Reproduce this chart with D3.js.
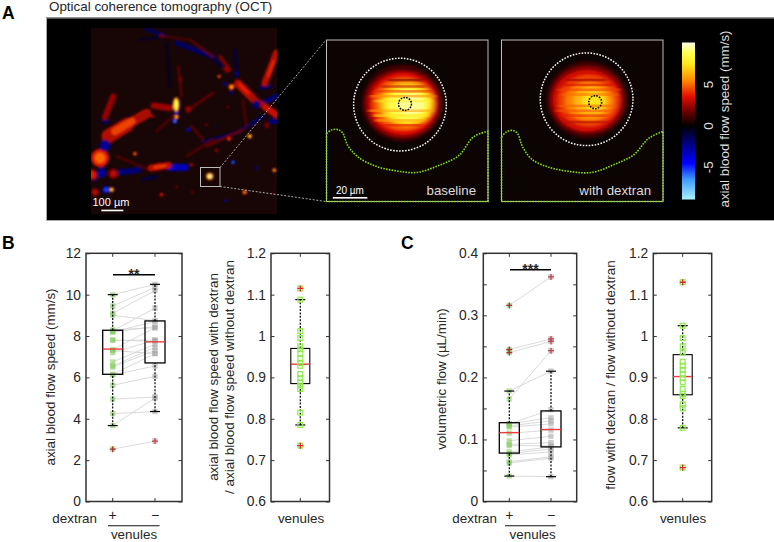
<!DOCTYPE html>
<html><head><meta charset="utf-8">
<script src="https://cdn.jsdelivr.net/npm/d3@7/dist/d3.min.js"></script>
<style>
html,body{margin:0;padding:0;background:#fff}
svg{display:block;font-family:"Liberation Sans",Arial,sans-serif}
text{fill:#262626}
</style></head><body><svg id="c" width="774" height="542"></svg>
<script>
// ---------- Panel A: picture content ----------
// [x0,y0,x1,y1,width,speed]
const vessels=[
[440,88,500,110,10,-1.7],[530,130,640,172,15,-1.7],[640,172,665,200,9,-1.4],[705,150,710,230,8,-1.1],
[610,425,710,400,9,-1.4],[710,400,790,350,11,-1.5],[770,318,830,290,15,-2],[785,265,810,260,14,-1.5],
[500,130,510,260,7,-.7],[420,120,500,110,7,-.8],[360,518,415,512,18,-2],[510,503,555,503,22,-3.2],
[285,540,310,505,11,-1.7],[430,540,470,530,10,-1.1],[310,368,325,365,11,-1.5],[815,365,830,365,15,-2.2],
[480,490,440,510,7,1.4],[470,395,530,340,7,1.4],[535,200,545,290,7,1.6],[575,380,610,420,7,1.5],
[565,330,640,280,7,1.7],[620,440,730,390,7,1.7],[730,300,740,380,7,1.4],[350,470,450,510,7,1.3],
[560,470,640,420,7,1.4],[570,120,640,170,7,1.6],[660,170,690,210,9,2.2],[490,110,570,120,6,1.3],
[830,160,795,250,20,2.9],[715,252,760,297,24,2.9],[760,297,830,345,19,2.6],[800,325,830,345,20,3.2],
[315,352,340,290,18,2.4],[325,410,382,375,42,2.9],[382,375,440,342,30,2.7],[462,318,510,325,19,2.5],
[455,505,505,497,21,3],[565,328,566,330,18,2.3],[680,208,682,210,18,2.3],[800,375,802,378,14,1.8],
[325,425,350,405,16,2.8],[540,235,542,242,10,1.9],[485,108,488,110,10,1.9],[345,395,395,365,22,4.4],[465,503,495,498,9,4.2],
[822,185,805,230,7,4],[720,255,745,280,9,3.8]];
// [x,y,radius,speed]
const blobs=[
[300,475,27,5],[276,525,16,3.8],[340,522,15,3],[285,578,12,2.9],[315,438,17,-2.8],[305,520,15,-2.8],
[770,315,12,-2.2],[675,253,6,-3],[712,222,6,-3],[695,280,5,-3.2],[530,338,8,-3.2],[565,390,6,-4],
[525,365,7,-6.4],[700,488,6,-6.2],[770,505,4,-4.4],[678,603,4,-4.6],[648,380,3,-3],[318,570,11,-5.4],
[630,530,11,9.5],[750,410,7,7.6],[695,262,9,6.4],[824,512,6,7],[735,578,7,6],[405,462,6,5.4],[335,570,7,8.4],
[530,352,7,7.2],[658,230,5,6],[688,418,6,4.6],[485,585,6,3.8],[575,495,5,3.4],[458,350,5,3.4],[650,452,5,3.2],
[620,375,4,2.6],[530,562,4,2.2],[578,578,4,2.2],[820,580,3,2.4],[685,323,4,2.2]];
// [x,y,rx,ry,speed]
const hotSpots=[[529,315,10,22,5.6],[529,315,6,15,8.8]];
const scaleBarMain=[304,370,630];

// inset heat maps: nested levels [cx,cy,rx,ry,speed] in inset units (0-100)
const insetBaseline=[[47,39,25,24,1],[47,39.5,23,21,2.4],[47.5,39.5,21,19,3.6],[48,39.5,19,16.5,4.8],[49.5,39.5,17,14,6.2],[50,40,15,12,7.4],[50.5,40,12.5,10,8.6],[52,40,8,6.5,9.4]];
const insetDextran=[[53,37,25,24,1],[53,37,23,21,2.2],[53,37.5,21,19,3.4],[54,37.5,18.5,16,4.4],[54.5,38,15,12.5,5.4],[55.5,38,11,9.5,6.4],[57,38,7,6,7.4]];
// horizontal scan streaks [y,x0,x1,speed]
const streaksBaseline=[[28,33,62,3],[31,29,66,4],[34,27,68,5.5],[37,30,65,7.8],[43,26,66,6],[46,29,63,7.5],[49,30,60,6],[52,35,60,3.6],[24,38,60,1.8]];
const streaksDextran=[[24,40,65,2.4],[27,36,71,3.4],[30,35,74,4.4],[33,37,72,5],[40,35,70,4.8],[43,34,68,4.6],[46,36,66,3.8],[50,40,66,2.8]];
const circlesBaseline={outer:[45.5,40.0,28.7],inner:[48.6,39.6,4]};
const circlesDextran={outer:[52.7,36.7,28.7],inner:[58,38.5,4]};
const greenBaseline=[[0,58],[3,55.7],[7,55.5],[10,57.5],[13,65],[19,72],[30,78],[43,81],[56,82],[70,77.5],[82,71.5],[91,60],[100,56.5]];
const greenDextran=[[0,60],[3,57],[7,56],[10,58],[13,66],[19,74],[30,79],[43,81.5],[56,82],[70,77],[82,71],[91,61],[100,56.5]];
const colorStops=[-8.9,-6.5,-4.5,-1.2,0,1.8,3.6,5.5,7.5,8.8,10.1];
const colorValues=["#a8f2ff","#3f9cff","#0000ff","#00004a","#000000","#700000","#e31000","#ff8a00","#ffe81e","#ffff50","#ffffe6"];
const cbTicks=[5,0,-5];

// ---------- Panels B and C: data ----------
const speedPlus =[2.53,3.67,4.25,4.95,5.62,6.12,6.15,6.5,6.55,6.75,7.2,7.3,7.35,7.8,7.8,8.2,8.2,8.25,8.3,9.0,9.1,9.45,10.0];
const speedMinus=[2.92,5.0,4.35,5.05,6.05,6.55,7.15,7.3,7.45,7.6,7.8,7.15,8.4,7.75,7.8,8.45,8.7,9.35,8.4,8.75,10.2,10.35,10.5];
const speedBoxPlus=[3.67,6.15,7.37,8.28,10.0];
const speedBoxMinus=[4.35,6.7,7.72,8.73,10.5];
const speedOutPlus=[2.53];
const speedOutMinus=[2.92];
const speedTicks=[0,2,4,6,8,10,12];

const ratioSpeed=[1.115,1.088,1.012,.995,.975,.968,.958,.945,.935,.928,.908,.898,.888,.88,.872,.815,.785,.735];
const ratioSpeedBox=[.785,.885,.932,.97,1.088];
const ratioSpeedOut=[1.115,.735];
const ratioTicks=[.6,.7,.8,.9,1,1.1,1.2];
const ratioLabels=["0.6","0.7","0.8","0.9","1","1.1","1.2"];

const flowPlus =[.041,.062,.064,.075,.077,.08,.09,.092,.098,.11,.12,.122,.125,.125,.165,.178,.24,.245,.316];
const flowMinus=[.04,.07,.072,.08,.085,.088,.09,.095,.105,.115,.125,.13,.135,.148,.243,.21,.258,.262,.362];
const flowBoxPlus=[.041,.078,.111,.127,.178];
const flowBoxMinus=[.04,.088,.116,.146,.21];
const flowOutPlus=[.24,.245,.316];
const flowOutMinus=[.243,.258,.262,.362];
const flowTicks=[0,.05,.1,.15,.2,.25,.3,.35,.4];
const flowLabels=["0","0.1","0.2","0.3","0.4"];

const ratioFlow=[1.13,1.025,.995,.975,.96,.938,.928,.918,.908,.898,.888,.872,.86,.855,.835,.825,.778,.682];
const ratioFlowBox=[.778,.858,.902,.955,1.025];
const ratioFlowOut=[1.13,.682];

// ---------- Drawing ----------
const FS=13.4;
const svg=d3.select("#c");
const defs=svg.append("defs");
[["b1","1.2"],["b3","2.2 1"],["bs","2 0.4"]].forEach(([id,s])=>defs.append("filter").attr("id",id)
  .attr("x","-30%").attr("y","-30%").attr("width","160%").attr("height","160%")
  .append("feGaussianBlur").attr("stdDeviation",s));
const heat=d3.scaleLinear().domain(colorStops).range(colorValues).interpolate(d3.interpolateRgb).clamp(true);

// black panel
svg.append("rect").attr("x",46).attr("y",17.5).attr("width",728).attr("height",203).attr("fill","#000");
svg.append("path").attr("d","M46.5 221V18H774M46.5 220.5H774").attr("fill","none").attr("stroke","#aaa").attr("stroke-width",1);
svg.append("text").attr("x",49).attr("y",11).attr("font-size",13.4).text("Optical coherence tomography (OCT)");

// main image
const ix=d3.scaleLinear([273,832],[91,277]), iy=d3.scaleLinear([85,643],[28,214]), iw=d3.scaleLinear([0,558],[0,186]);
defs.append("clipPath").attr("id","mainClip").append("rect").attr("x",91).attr("y",28).attr("width",186).attr("height",186);
const main=svg.append("g").attr("clip-path","url(#mainClip)");
main.append("rect").attr("x",91).attr("y",28).attr("width",186).attr("height",186).attr("fill","#180505");
const mg=main.append("g").attr("filter","url(#b1)");
mg.selectAll("line.v").data(vessels).join("line")
 .attr("x1",d=>ix(d[0])).attr("y1",d=>iy(d[1])).attr("x2",d=>ix(d[2])).attr("y2",d=>iy(d[3]))
 .attr("stroke-width",d=>iw(d[4])).attr("stroke-linecap","round").attr("stroke",d=>heat(d[5]));
mg.selectAll("circle.o").data(blobs).join(e=>e.append("circle").attr("class","o")).attr("cx",d=>ix(d[0])).attr("cy",d=>iy(d[1])).attr("r",d=>iw(d[2]))
 .attr("fill",d=>heat(d[3]*(Math.abs(d[3])>5?0.6:0.75)));
mg.selectAll("circle.i").data(blobs).join(e=>e.append("circle").attr("class","i")).attr("cx",d=>ix(d[0])).attr("cy",d=>iy(d[1])).attr("r",d=>iw(d[2])*.55)
 .attr("fill",d=>heat(d[3]));
mg.selectAll("ellipse").data(hotSpots).join("ellipse").attr("cx",d=>ix(d[0])).attr("cy",d=>iy(d[1])).attr("rx",d=>iw(d[2])).attr("ry",d=>iw(d[3])).attr("fill",d=>heat(d[4]));
svg.append("rect").attr("x",ix(scaleBarMain[0])).attr("y",iy(scaleBarMain[2])).attr("width",iw(scaleBarMain[1]-scaleBarMain[0])).attr("height",1.6).attr("fill","#fff");
svg.append("text").attr("x",ix(333)).attr("y",iy(620)).attr("text-anchor","middle").attr("font-size",11).style("fill","#fff").text("100 µm");

// zoom box and connectors
svg.append("rect").attr("x",200.5).attr("y",167.5).attr("width",19.5).attr("height",19).attr("fill","none").attr("stroke","#bbb").attr("stroke-width",1);
svg.append("path").attr("d","M220 167.5L326 40M220 186.5L326 201.5").attr("stroke","#aaa").attr("stroke-width",1).attr("stroke-dasharray","2 1.6").attr("fill","none");

// insets
function inset(x0,id,levels,streaks,circ,green,label,bar){
  const w=161.5,y0=40,h=161.5;
  const u=d3.scaleLinear([0,100],[x0,x0+w]), v=d3.scaleLinear([0,100],[y0,y0+h]), s=d3.scaleLinear([0,100],[0,w]);
  defs.append("clipPath").attr("id",id).append("rect").attr("x",x0).attr("y",y0).attr("width",w).attr("height",h);
  const g=svg.append("g").attr("clip-path",`url(#${id})`);
  g.append("rect").attr("x",x0).attr("y",y0).attr("width",w).attr("height",h).attr("fill","#0c0303");
  g.append("g").attr("filter","url(#b3)").selectAll("ellipse").data(levels).join("ellipse")
    .attr("cx",d=>u(d[0])).attr("cy",d=>v(d[1])).attr("rx",d=>s(d[2])).attr("ry",d=>s(d[3])).attr("fill",d=>heat(d[4]));
  g.append("g").attr("filter","url(#bs)").attr("opacity",.55).selectAll("rect").data(streaks).join("rect")
    .attr("x",d=>u(d[1])).attr("y",d=>v(d[0])).attr("width",d=>s(d[2]-d[1])).attr("height",s(1.6)).attr("fill",d=>heat(d[3]));
  svg.append("circle").attr("cx",u(circ.outer[0])).attr("cy",v(circ.outer[1])).attr("r",s(circ.outer[2])).attr("fill","none").attr("stroke","#fff").attr("stroke-width",1.5).attr("stroke-dasharray","1.6 1.4");
  svg.append("circle").attr("cx",u(circ.inner[0])).attr("cy",v(circ.inner[1])).attr("r",s(circ.inner[2])).attr("fill","none").attr("stroke","#000").attr("stroke-width",1.5).attr("stroke-dasharray","1.6 1.2");
  svg.append("rect").attr("x",x0).attr("y",y0).attr("width",w).attr("height",h).attr("fill","none").attr("stroke","#bdbdbd").attr("stroke-width",1);
  const ln=d3.line().x(d=>u(d[0])).y(d=>v(d[1])).curve(d3.curveCatmullRom);
  const closed=ln(green)+`L${u(100)} ${v(100)}L${u(0)} ${v(100)}Z`;
  svg.append("path").attr("d",closed).attr("fill","none").attr("stroke","#84d81f").attr("stroke-width",1.6).attr("stroke-dasharray","1.6 1.2");
  svg.append("text").attr("x",u(92.6)).attr("y",195).attr("text-anchor","end").attr("font-size",13.3).style("fill","#ddd").text(label);
  if(bar){
    svg.append("rect").attr("x",u(3.9)).attr("y",197).attr("width",s(21.4)).attr("height",1.6).attr("fill","#fff");
    svg.append("text").attr("x",u(14.5)).attr("y",194).attr("text-anchor","middle").attr("font-size",10).style("fill","#fff").text("20 µm");
  }
}
inset(326.5,"ic1",insetBaseline,streaksBaseline,circlesBaseline,greenBaseline,"baseline",true);
inset(501.5,"ic2",insetDextran,streaksDextran,circlesDextran,greenDextran,"with dextran",false);

// colorbar
const cy=d3.scaleLinear([-8.9,10.1],[199.5,42.5]);
const cbg=defs.append("linearGradient").attr("id","cb").attr("x1",0).attr("x2",0).attr("y1",1).attr("y2",0);
colorStops.forEach((d,i)=>cbg.append("stop").attr("offset",(d+8.9)/19).attr("stop-color",colorValues[i]));
svg.append("rect").attr("x",682).attr("y",cy(10.1)).attr("width",13).attr("height",cy(-8.9)-cy(10.1)).attr("fill","url(#cb)");
svg.selectAll("text.cb").data(cbTicks).join(e=>e.append("text").attr("class","cb"))
  .attr("transform",d=>`translate(713,${cy(d)}) rotate(-90)`).attr("text-anchor","middle").attr("font-size",13.4).style("fill","#ddd").text(d=>d<0?"-"+(-d):d);
svg.append("text").attr("transform","translate(729,119) rotate(-90)").attr("text-anchor","middle").attr("font-size",FS).style("fill","#ddd").text("axial blood flow speed (mm/s)");

// panel letters
[["A",2,19],["B",2,249],["C",401,249]].forEach(d=>svg.append("text").attr("x",d[1]).attr("y",d[2]).attr("font-size",17.5).attr("font-weight","bold").style("fill","#000").text(d[0]));

// box-plot panels
function axes(x0,x1,y,ticks,fmt,labelled,xt){
  const g=svg.append("g");
  const top=y.range()[1],bot=y.range()[0];
  g.append("rect").attr("x",x0).attr("y",top).attr("width",x1-x0).attr("height",bot-top).attr("fill","none").attr("stroke","#333").attr("stroke-width",1.5);
  const l=d3.axisLeft(y).tickValues(ticks).tickSize(-3.5).tickPadding(5).tickFormat(d=>labelled(d)?fmt(d):"");
  const ga=g.append("g").attr("transform",`translate(${x0},0)`).call(l);
  ga.select(".domain").remove();ga.selectAll("line").attr("stroke","#333");
  ga.selectAll("text").attr("font-size",13.8).attr("font-family","Liberation Sans");
  const r=d3.axisRight(y).tickValues(ticks).tickSize(-3.5).tickFormat("");
  const gr=g.append("g").attr("transform",`translate(${x1},0)`).call(r);
  gr.select(".domain").remove();gr.selectAll("line").attr("stroke","#333");
  g.selectAll("line.xt").data(xt).join(e=>e.append("line").attr("class","xt")).attr("x1",d=>d).attr("x2",d=>d).attr("y1",bot).attr("y2",bot-3.5).attr("stroke","#333");
  g.selectAll("line.xt2").data(xt).join(e=>e.append("line").attr("class","xt2")).attr("x1",d=>d).attr("x2",d=>d).attr("y1",top).attr("y2",top+3.5).attr("stroke","#333");
}
function box(cx,hw,y,s,lw){
  const g=svg.append("g");
  g.append("line").attr("x1",cx).attr("x2",cx).attr("y1",y(s[0])).attr("y2",y(s[1])).attr("stroke","#000").attr("stroke-width",1.2).attr("stroke-dasharray","2 1.4");
  g.append("line").attr("x1",cx).attr("x2",cx).attr("y1",y(s[3])).attr("y2",y(s[4])).attr("stroke","#000").attr("stroke-width",1.2).attr("stroke-dasharray","2 1.4");
  [s[0],s[4]].forEach(v=>g.append("line").attr("x1",cx-5).attr("x2",cx+5).attr("y1",y(v)).attr("y2",y(v)).attr("stroke","#000").attr("stroke-width",1.2));
  g.append("rect").attr("x",cx-hw).attr("y",y(s[3])).attr("width",2*hw).attr("height",y(s[1])-y(s[3])).attr("fill","none").attr("stroke","#000").attr("stroke-width",lw);
  g.append("line").attr("x1",cx-hw).attr("x2",cx+hw).attr("y1",y(s[2])).attr("y2",y(s[2])).attr("stroke","#ee3b3b").attr("stroke-width",1.4);
}
function squares(cx,y,vals,col,op,filled){
  svg.append("g").selectAll("rect").data(vals).join("rect").attr("x",cx-2.4).attr("y",d=>y(d)-2.4).attr("width",4.8).attr("height",4.8)
    .attr("fill",filled?col:"none").attr("stroke",col).attr("stroke-width",filled?.4:1.2).attr("opacity",op);
}
function outliers(cx,y,vals,col){
  const g=svg.append("g");
  g.selectAll("path").data(vals).join("path").attr("d",d=>`M${cx-3} ${y(d)}H${cx+3}M${cx} ${y(d)-3}V${y(d)+3}`).attr("stroke",col).attr("stroke-width",1.3).attr("fill","none");
}
function paired(px,mx,y,a,b,boxA,boxB,outA,outB,hw){
  svg.append("g").selectAll("line").data(a.map((d,i)=>[d,b[i]])).join("line").attr("x1",px).attr("x2",mx).attr("y1",d=>y(d[0])).attr("y2",d=>y(d[1])).attr("stroke","#d6d6d6").attr("stroke-width",.9);
  squares(px,y,a,"#86cc62",.6,true);
  squares(mx,y,b,"#a9a9a9",.6,true);
  box(px,hw,y,boxA,1.3);box(mx,hw,y,boxB,1.3);
  outliers(px,y,outA,"#a83232");outliers(mx,y,outB,"#c0484f");
}
function single(cx,y,vals,s,out){
  box(cx,9.5,y,s,1.1);
  squares(cx,y,vals,"#8fea4e",1,false);
  outliers(cx,y,out,"#e0202a");
}
function xlabels(end,px,mx,lx0,lx1,cv){
  svg.append("text").attr("x",end).attr("y",523).attr("text-anchor","end").attr("font-size",FS).text("dextran");
  svg.append("text").attr("x",px).attr("y",520).attr("text-anchor","middle").attr("font-size",14).text("+");
  svg.append("text").attr("x",mx).attr("y",520).attr("text-anchor","middle").attr("font-size",14).text("−");
  svg.append("line").attr("x1",lx0).attr("x2",lx1).attr("y1",525.7).attr("y2",525.7).attr("stroke","#111").attr("stroke-width",1.1);
  svg.append("text").attr("x",cv).attr("y",539).attr("text-anchor","middle").attr("font-size",FS).text("venules");
}
function yTitle(x,cy,t){svg.append("text").attr("transform",`translate(${x},${cy}) rotate(-90)`).attr("text-anchor","middle").attr("font-size",FS).text(t);}
function bracket(x0,x1,yy,stars){
  svg.append("line").attr("x1",x0).attr("x2",x1).attr("y1",yy).attr("y2",yy).attr("stroke","#000").attr("stroke-width",1.4);
  svg.append("text").attr("x",(x0+x1)/2).attr("y",yy+4.5).attr("text-anchor","middle").attr("font-size",14).attr("font-weight","bold").text(stars);
}
const BOT=501.5,TOP=253.3;

// B
const yB=d3.scaleLinear([0,12],[BOT,TOP]);
axes(86,182,yB,speedTicks,d=>d,()=>true,[112.7,155]);
paired(112.7,155,yB,speedPlus,speedMinus,speedBoxPlus,speedBoxMinus,speedOutPlus,speedOutMinus,10);
bracket(113,155,274.7,"**");
xlabels(97,112.7,155,108,159.5,134);
yTitle(55,377,"axial blood flow speed (mm/s)");
// B2
const yB2=d3.scaleLinear([.6,1.2],[BOT,TOP]);
const rf=d=>ratioLabels[ratioTicks.indexOf(d)];
axes(271,329.5,yB2,ratioTicks,rf,()=>true,[300.3]);
single(300.3,yB2,ratioSpeed,ratioSpeedBox,ratioSpeedOut);
svg.append("text").attr("x",301).attr("y",523).attr("text-anchor","middle").attr("font-size",FS).text("venules");
yTitle(218,377,"axial blood flow speed with dextran");
yTitle(234,377,"/ axial blood flow speed without dextran");
// C
const yC=d3.scaleLinear([0,.4],[BOT,TOP]);
axes(483.3,576.7,yC,flowTicks,d=>flowLabels[Math.round(d*10)],d=>Math.abs(d*10-Math.round(d*10))<1e-6,[509.3,551]);
paired(509.3,551,yC,flowPlus,flowMinus,flowBoxPlus,flowBoxMinus,flowOutPlus,flowOutMinus,10);
bracket(510,551,269.7,"***");
xlabels(497,509.3,551,505,555.7,532.7);
yTitle(446,379,"volumetric flow (µL/min)");
// C2
const yC2=d3.scaleLinear([.6,1.2],[BOT,TOP]);
axes(653.3,711.7,yC2,ratioTicks,rf,()=>true,[682.7]);
single(682.7,yC2,ratioFlow,ratioFlowBox,ratioFlowOut);
svg.append("text").attr("x",683).attr("y",523).attr("text-anchor","middle").attr("font-size",FS).text("venules");
yTitle(615,375,"flow with dextran / flow without dextran");
</script></body></html>
